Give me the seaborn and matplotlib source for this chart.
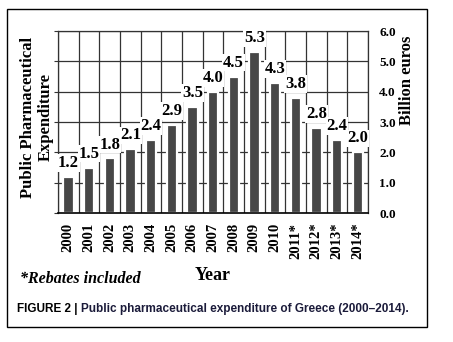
import numpy as np
import pandas as pd
import matplotlib
matplotlib.use("Agg")
import matplotlib.pyplot as plt
from matplotlib.patches import Rectangle
import seaborn as sns

years = ["2000", "2001", "2002", "2003", "2004", "2005", "2006", "2007",
         "2008", "2009", "2010", "2011*", "2012*", "2013*", "2014*"]
expenditure = [1.2, 1.5, 1.8, 2.1, 2.4, 2.9, 3.5, 4.0, 4.5, 5.3, 4.3, 3.8, 2.8, 2.4, 2.0]
yticks = [0.0, 1.0, 2.0, 3.0, 4.0, 5.0, 6.0]

sns.set_style("white")
plt.rcParams["font.family"] = ["Liberation Serif", "DejaVu Serif"]
plt.rcParams["text.color"] = "black"
plt.rcParams["xtick.color"] = "black"
plt.rcParams["ytick.color"] = "black"

W, H = 453, 342
fig = plt.figure(figsize=(W / 100, H / 100), dpi=100)
ax = fig.add_axes([58 / W, 1 - 213 / H, (368 - 58) / W, (213 - 31) / H])

df = pd.DataFrame({"year": years, "value": expenditure})
sns.barplot(data=df, x="year", y="value", color="#474747", saturation=1,
            width=0.5, edgecolor="white", linewidth=1.6, ax=ax, zorder=2)

ax.set_xlim(-0.5, len(years) - 0.5)
ax.set_ylim(0, 6)
ax.set_yticks(yticks)
ax.set_yticklabels([f"{t:.1f}" for t in yticks], fontsize=9.5, fontweight="bold")
ax.set_xticks(range(len(years)))
ax.set_xticklabels(years, rotation=90, fontsize=10.5, fontweight="bold")
ax.set_xticks(np.arange(-0.5, len(years), 1), minor=True)
ax.tick_params(axis="x", which="major", length=0, pad=7)
ax.tick_params(axis="x", which="minor", length=5, width=0.9, color="#222222", direction="out")
ax.tick_params(axis="y", which="major", left=True, right=False, labelleft=False,
               labelright=True, length=3, width=0.8, color="#333333", pad=5)
ax.set_axisbelow(True)
ax.grid(which="minor", axis="x", color="#333333", linewidth=0.9)
ax.grid(which="major", axis="y", color="#333333", linewidth=0.9)
ax.grid(which="major", axis="x", visible=False)
for s in ax.spines.values():
    s.set_color("#333333")
    s.set_linewidth(0.9)
ax.spines["bottom"].set_color("black")
ax.spines["bottom"].set_linewidth(1.2)
ax.set_xlabel("")
ax.set_ylabel("")

for i, v in enumerate(expenditure):
    ax.annotate(f"{v:.1f}", (i, v), xytext=(0, 10), textcoords="offset points",
                ha="center", va="center", fontsize=12, fontweight="bold", zorder=5,
                bbox=dict(boxstyle="square,pad=0.05", fc="white", ec="none"))

# axis titles
fig.text(37 / W, 1 - 117 / H, "Public Pharmaceutical\nExpenditure", rotation=90,
         ha="center", va="center", fontsize=12, fontweight="bold", linespacing=1.2,
         multialignment="center")
fig.text(407 / W, 1 - 80 / H, "Billion euros", rotation=90, ha="center", va="center",
         fontsize=12, fontweight="bold")
fig.text(213 / W, 1 - 275 / H, "Year", ha="center", va="center",
         fontsize=13, fontweight="bold")
fig.text(20 / W, 1 - 279 / H, "*Rebates included", ha="left", va="center",
         fontsize=11.5, fontweight="bold", style="italic")

# caption
t1 = fig.text(17 / W, 1 - 309 / H, "FIGURE 2 | ", ha="left", va="center",
              fontsize=8.5, fontweight="bold", family="Liberation Sans", color="black")
fig.canvas.draw()
bb = t1.get_window_extent()
x2 = bb.x1 / W
fig.text(x2, 1 - 309 / H, "Public pharmaceutical expenditure of Greece (2000\u20132014).",
         ha="left", va="center", fontsize=8.5, fontweight="bold",
         family="Liberation Sans", color="#1b1b3a")

# frame
fig.patches.append(Rectangle((7 / W, 1 - 327 / H), (427 - 7) / W, (327 - 9) / H,
                             transform=fig.transFigure, fill=False, lw=1.0, ec="black"))

fig.savefig("out.png", dpi=100)
